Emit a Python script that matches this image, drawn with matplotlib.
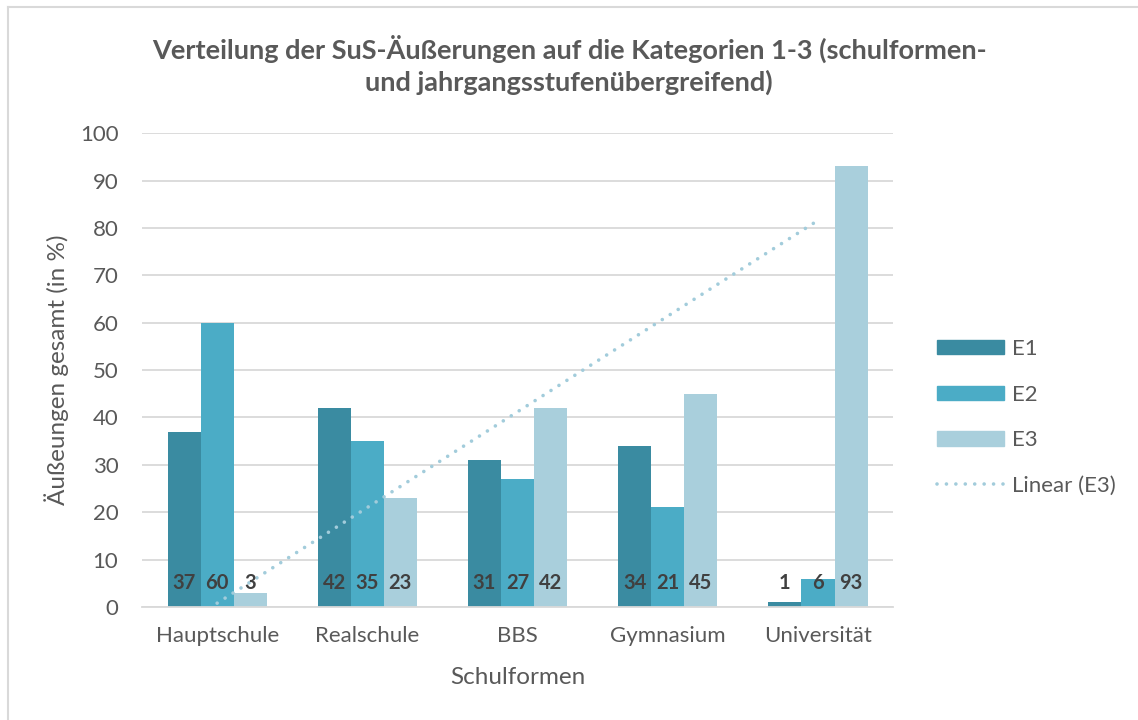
import matplotlib.pyplot as plt
import numpy as np
from matplotlib.lines import Line2D

schulformen = ["Hauptschule", "Realschule", "BBS", "Gymnasium", "Universität"]
e1 = [37, 42, 31, 34, 1]
e2 = [60, 35, 27, 21, 6]
e3 = [3, 23, 42, 45, 93]
serien = ["E1", "E2", "E3"]
farben = ["#3A8BA1", "#4BACC6", "#A9CFDC"]

plt.rcParams['font.family'] = ['Lato', 'DejaVu Sans']
grau = "#595959"

fig = plt.figure(figsize=(11.38, 7.2), dpi=100)
ax = fig.add_axes([0.1248, 0.157, 0.66, 0.658])

x = np.arange(len(schulformen))
w = 0.22
for i, (werte, name, farbe) in enumerate(zip([e1, e2, e3], serien, farben)):
    pos = x + (i - 1) * w
    ax.bar(pos, werte, w, color=farbe, label=name, zorder=2)
    for p, v in zip(pos, werte):
        ax.text(p, 5, str(v), ha='center', va='center', fontsize=14.5,
                fontweight='bold', color="#404040", zorder=5)

# linearer Trend fuer E3
k, d = np.polyfit(x + 1, e3, 1)
trend = k * (x + 1) + d
ax.plot(x, trend, color="#A2CCDB", linewidth=2.6, linestyle=(0, (0.01, 2.6)),
        dash_capstyle='round', zorder=4)

ax.set_xlim(-0.5, 4.5)
ax.set_ylim(0, 100)
ax.set_yticks(range(0, 101, 10))
ax.set_xticks(x)
ax.set_xticklabels(schulformen)
ax.tick_params(length=0, labelsize=16, colors=grau, pad=14)
ax.tick_params(axis='y', pad=17)
ax.grid(axis='y', color="#D9D9D9", linewidth=1.3, zorder=0)
ax.set_axisbelow(True)
for s in ['top', 'right', 'left']:
    ax.spines[s].set_visible(False)
ax.spines['bottom'].set_color("#D9D9D9")
ax.spines['bottom'].set_linewidth(1.3)

ax.set_xlabel("Schulformen", fontsize=17.5, color=grau, labelpad=15)
ax.set_ylabel("Äußeungen gesamt (in %)", fontsize=17.5, color=grau, labelpad=8)

fig.text(0.5, 0.91, "Verteilung der SuS-Äußerungen auf die Kategorien 1-3 (schulformen-\nund jahrgangsstufenübergreifend)",
         ha='center', va='center', fontsize=19.5, fontweight='bold', color=grau,
         linespacing=1.35)

handles = [plt.Rectangle((0, 0), 1, 1, color=f) for f in farben]
handles.append(Line2D([], [], color="#A2CCDB", linewidth=2.6,
                      linestyle=(0, (0.01, 2.6)), dash_capstyle='round'))
leg = ax.legend(handles, serien + ["Linear (E3)"], loc='center left',
                bbox_to_anchor=(0.806, 0.42), bbox_transform=fig.transFigure,
                frameon=False, fontsize=16, labelcolor=grau,
                handlelength=3.0, handleheight=0.6, labelspacing=1.15,
                handletextpad=0.36)

# Rahmen des Diagrammbereichs
fig.add_artist(Line2D([0.007, 0.007], [0.99, 0.0], color="#D9D9D9", linewidth=1.5,
                      transform=fig.transFigure))
fig.add_artist(Line2D([0.007, 1.0], [0.99, 0.99], color="#D9D9D9", linewidth=1.5,
                      transform=fig.transFigure))

fig.savefig("out.png", dpi=100)
